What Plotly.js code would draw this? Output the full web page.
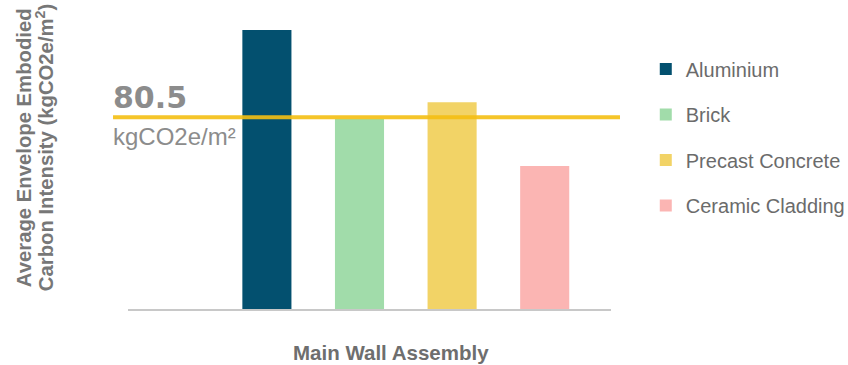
<!DOCTYPE html>
<html>
<head>
<meta charset="utf-8">
<script src="https://cdn.plot.ly/plotly-3.0.1.min.js"></script>
<style>
  html, body { margin: 0; padding: 0; background: #fff; }
  #chart { width: 848px; height: 365px; }
</style>
</head>
<body>
<div id="chart"></div>
<script>
// Wall assembly types and their embodied carbon intensity (kgCO2e/m²)
const materials = ['Aluminium', 'Brick', 'Precast Concrete', 'Ceramic Cladding'];
const intensity = [117.2, 79.8, 86.8, 60.1];
const colors = ['#03506f', '#a1dcaa', '#f2d366', '#fbb5b3'];
// Average across all assemblies
const average = 80.5;
const averageUnit = 'kgCO2e/m²';
const yTitleLines = ['Average Envelope Embodied', 'Carbon Intensity (kgCO2e/m<sup>2</sup>)'];
const xTitle = 'Main Wall Assembly';

const font = 'Liberation Sans, Arial, sans-serif';

// One trace per material so each gets its own legend entry.
// Slot 0 on the axis is left empty; the bars sit in slots 1..4.
const traces = materials.map((name, i) => ({
  type: 'bar',
  name: name,
  x: [i + 1],
  y: [intensity[i]],
  width: 0.53,
  marker: { color: colors[i], line: { width: 0 } },
  legendgroup: 'g' + i,
  hoverinfo: 'name+y'
}));

// Rotated y-axis title, one annotation per line for tight line spacing
const yTitleX = [-0.2153, -0.1718];
const yTitleAnnotations = yTitleLines.map((line, i) => ({
  text: '<b>' + line + '</b>',
  xref: 'paper', x: yTitleX[i], xanchor: 'center',
  yref: 'paper', y: 0.538, yanchor: 'middle',
  textangle: -90,
  showarrow: false,
  font: { family: font, size: 20.3, color: '#777777' }
}));

const layout = {
  width: 848,
  height: 365,
  margin: { l: 128, r: 237, t: 10, b: 56, autoexpand: false },
  paper_bgcolor: '#ffffff',
  plot_bgcolor: '#ffffff',
  barmode: 'overlay',
  showlegend: true,
  legend: {
    x: 1.072, xanchor: 'left',
    y: 0.868, yanchor: 'top',
    font: { family: font, size: 20, color: '#6b6b6b' },
    tracegroupgap: 16.5,
    bgcolor: 'rgba(0,0,0,0)'
  },
  xaxis: {
    type: 'linear',
    range: [-0.5, 4.716],
    showline: true, linecolor: '#c8c8c8', linewidth: 2,
    showgrid: false, zeroline: false,
    showticklabels: false, ticks: ''
  },
  yaxis: {
    range: [0, 125.6],
    showline: false, showgrid: false, zeroline: false,
    showticklabels: false, ticks: ''
  },
  shapes: [{
    type: 'line', layer: 'above',
    xref: 'paper', x0: -0.031, x1: 1.0186,
    yref: 'y', y0: average, y1: average,
    line: { color: '#f5bf12', width: 4 },
    opacity: 0.9
  }],
  annotations: [
    {
      text: '<b>' + average.toFixed(1) + '</b>',
      xref: 'paper', x: -0.036, xanchor: 'left',
      yref: 'y', y: average, yanchor: 'bottom', yshift: 0,
      showarrow: false,
      font: { family: 'DejaVu Sans, sans-serif', size: 30, color: '#8c8c8c' }
    },
    {
      text: averageUnit,
      xref: 'paper', x: -0.036, xanchor: 'left',
      yref: 'y', y: average, yanchor: 'top', yshift: -4,
      showarrow: false,
      font: { family: font, size: 24, color: '#8c8c8c' }
    },
    ...yTitleAnnotations,
    {
      text: '<b>' + xTitle + '</b>',
      xref: 'paper', x: 0.5445, xanchor: 'center',
      yref: 'paper', y: -0.145, yanchor: 'middle',
      showarrow: false,
      font: { family: font, size: 20.5, color: '#6e6e6e' }
    }
  ]
};

Plotly.newPlot('chart', traces, layout, { displayModeBar: false, staticPlot: true });
</script>
</body>
</html>
